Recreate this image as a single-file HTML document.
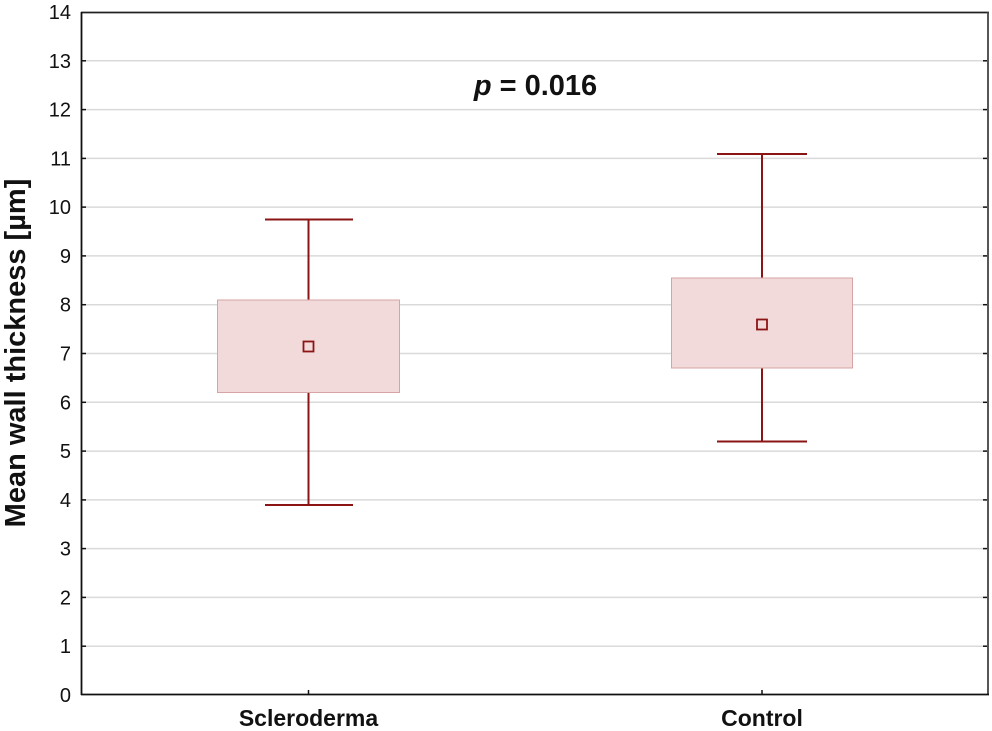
<!DOCTYPE html>
<html><head><meta charset="utf-8"><style>
html,body{margin:0;padding:0;background:#fff;}
svg{display:block;}
text{font-family:"Liberation Sans",Arial,sans-serif;}
</style></head><body>
<svg width="992" height="731" viewBox="0 0 992 731" xmlns="http://www.w3.org/2000/svg">
<rect width="992" height="731" fill="#fff"/>
<g stroke="#dadada" stroke-width="1.5">
<line x1="82" x2="987" y1="646.2" y2="646.2"/>
<line x1="82" x2="987" y1="597.4" y2="597.4"/>
<line x1="82" x2="987" y1="548.6" y2="548.6"/>
<line x1="82" x2="987" y1="499.9" y2="499.9"/>
<line x1="82" x2="987" y1="451.1" y2="451.1"/>
<line x1="82" x2="987" y1="402.3" y2="402.3"/>
<line x1="82" x2="987" y1="353.5" y2="353.5"/>
<line x1="82" x2="987" y1="304.7" y2="304.7"/>
<line x1="82" x2="987" y1="255.9" y2="255.9"/>
<line x1="82" x2="987" y1="207.1" y2="207.1"/>
<line x1="82" x2="987" y1="158.4" y2="158.4"/>
<line x1="82" x2="987" y1="109.6" y2="109.6"/>
<line x1="82" x2="987" y1="60.8" y2="60.8"/>
</g>
<g>
<line x1="308.5" x2="308.5" y1="219.5" y2="300" stroke="#8b1515" stroke-width="2"/>
<line x1="308.5" x2="308.5" y1="392.5" y2="505" stroke="#8b1515" stroke-width="2"/>
<line x1="265" x2="353" y1="219.5" y2="219.5" stroke="#8b1515" stroke-width="2"/>
<line x1="265" x2="353" y1="505" y2="505" stroke="#8b1515" stroke-width="2"/>
<rect x="217.5" y="300" width="182" height="92.5" fill="#f2dada" stroke="#d6a4a4" stroke-width="1"/>
<rect x="303.5" y="341.5" width="10" height="10" fill="#f2dada" stroke="#8b1515" stroke-width="1.8"/>
</g>
<g>
<line x1="762" x2="762" y1="154" y2="278" stroke="#8b1515" stroke-width="2"/>
<line x1="762" x2="762" y1="368" y2="441.5" stroke="#8b1515" stroke-width="2"/>
<line x1="717" x2="807" y1="154" y2="154" stroke="#8b1515" stroke-width="2"/>
<line x1="717" x2="807" y1="441.5" y2="441.5" stroke="#8b1515" stroke-width="2"/>
<rect x="671.5" y="278" width="181" height="90" fill="#f2dada" stroke="#d6a4a4" stroke-width="1"/>
<rect x="757" y="319.5" width="10" height="10" fill="#f2dada" stroke="#8b1515" stroke-width="1.8"/>
</g>
<line x1="81" x2="989" y1="12.5" y2="12.5" stroke="#222" stroke-width="1.8"/>
<line x1="988" x2="988" y1="12" y2="695" stroke="#444" stroke-width="1.8"/>
<line x1="81.5" x2="81.5" y1="12" y2="695" stroke="#111" stroke-width="1.8"/>
<line x1="81" x2="989" y1="694.5" y2="694.5" stroke="#111" stroke-width="1.8"/>
<g stroke="#111" stroke-width="1.5">
<line x1="82" x2="86" y1="646.2" y2="646.2"/>
<line x1="82" x2="86" y1="597.4" y2="597.4"/>
<line x1="82" x2="86" y1="548.6" y2="548.6"/>
<line x1="82" x2="86" y1="499.9" y2="499.9"/>
<line x1="82" x2="86" y1="451.1" y2="451.1"/>
<line x1="82" x2="86" y1="402.3" y2="402.3"/>
<line x1="82" x2="86" y1="353.5" y2="353.5"/>
<line x1="82" x2="86" y1="304.7" y2="304.7"/>
<line x1="82" x2="86" y1="255.9" y2="255.9"/>
<line x1="82" x2="86" y1="207.1" y2="207.1"/>
<line x1="82" x2="86" y1="158.4" y2="158.4"/>
<line x1="82" x2="86" y1="109.6" y2="109.6"/>
<line x1="82" x2="86" y1="60.8" y2="60.8"/>
<line x1="983" x2="987" y1="60.8" y2="60.8"/>
<line x1="983" x2="987" y1="109.6" y2="109.6"/>
<line x1="983" x2="987" y1="158.4" y2="158.4"/>
<line x1="983" x2="987" y1="207.1" y2="207.1"/>
<line x1="983" x2="987" y1="255.9" y2="255.9"/>
<line x1="983" x2="987" y1="304.7" y2="304.7"/>
<line x1="983" x2="987" y1="353.5" y2="353.5"/>
<line x1="983" x2="987" y1="402.3" y2="402.3"/>
<line x1="983" x2="987" y1="451.1" y2="451.1"/>
<line x1="983" x2="987" y1="499.9" y2="499.9"/>
<line x1="983" x2="987" y1="548.6" y2="548.6"/>
<line x1="983" x2="987" y1="597.4" y2="597.4"/>
<line x1="983" x2="987" y1="646.2" y2="646.2"/>
<line x1="308.5" x2="308.5" y1="690" y2="694"/>
<line x1="762" x2="762" y1="690" y2="694"/>
</g>
<g font-size="20" fill="#111" text-anchor="end">
<text x="71" y="702">0</text>
<text x="71" y="653.2">1</text>
<text x="71" y="604.4">2</text>
<text x="71" y="555.6">3</text>
<text x="71" y="506.9">4</text>
<text x="71" y="458.1">5</text>
<text x="71" y="409.3">6</text>
<text x="71" y="360.5">7</text>
<text x="71" y="311.7">8</text>
<text x="71" y="262.9">9</text>
<text x="71" y="214.1">10</text>
<text x="71" y="165.4">11</text>
<text x="71" y="116.6">12</text>
<text x="71" y="67.8">13</text>
<text x="71" y="19">14</text>
</g>
<g font-size="23" font-weight="bold" fill="#111" text-anchor="middle">
<text x="308.5" y="726">Scleroderma</text>
<text x="762" y="726">Control</text>
</g>
<text x="535.5" y="95" font-size="29" font-weight="bold" fill="#111" text-anchor="middle"><tspan font-style="italic">p</tspan> = 0.016</text>
<text transform="translate(25,353) rotate(-90)" font-size="29" font-weight="bold" fill="#111" text-anchor="middle">Mean wall thickness [µm]</text>
</svg>
</body></html>
